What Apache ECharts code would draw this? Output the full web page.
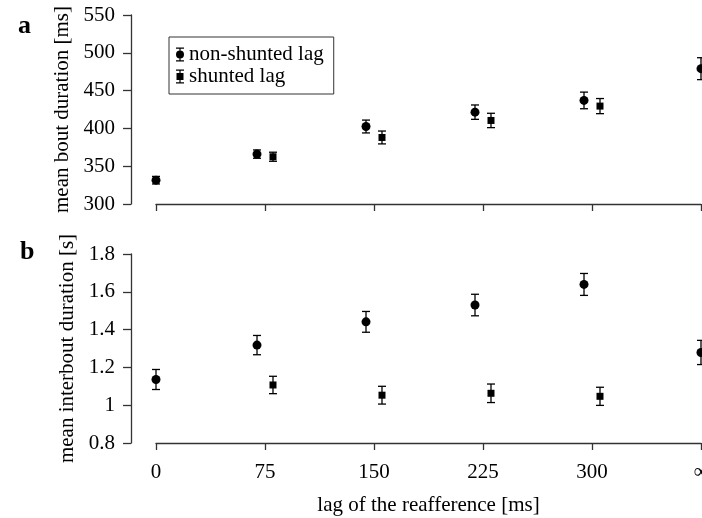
<!DOCTYPE html>
<html>
<head>
<meta charset="utf-8">
<script src="https://cdn.jsdelivr.net/npm/echarts@6/dist/echarts.min.js"></script>
<style>
  html, body { margin: 0; padding: 0; background: #fff; }
  #chart { width: 702px; height: 518px; }
</style>
</head>
<body>
<div id="chart"></div>
<script>
// x positions: the two groups are drawn a little apart around each lag tick
const lagTicks = [0, 75, 150, 225, 300, 375]; // 375 stands for the infinite lag
const xNonShunted = [0, 69.5, 144.5, 219.5, 294.5, 375];
const xShunted = [80.5, 155.5, 230.5, 305.5];

// panel a: mean bout duration [ms]
const boutNonShunted = [331.5, 366, 402.5, 421.5, 437, 479];
const boutNonShuntedErr = [5, 5.5, 8.5, 9.5, 11, 14.5];
const boutShunted = [362.5, 388, 410.5, 429.5];
const boutShuntedErr = [6, 8.5, 9.5, 10];

// panel b: mean interbout duration [s]
const interNonShunted = [1.136, 1.318, 1.441, 1.530, 1.639, 1.279];
const interNonShuntedErr = [0.053, 0.051, 0.055, 0.057, 0.058, 0.064];
const interShunted = [1.107, 1.053, 1.063, 1.047];
const interShuntedErr = [0.046, 0.047, 0.049, 0.048];

const FONT = '"Liberation Serif", "DejaVu Serif", serif';
const LINE = '#333';

const toPoints = (xs, ys) => xs.map((x, i) => [x, ys[i]]);
const toBars = (xs, ys, es) => xs.map((x, i) => [x, ys[i] - es[i], ys[i] + es[i]]);

// error bar: vertical line plus two small caps
const renderErrorBar = (params, api) => {
  const lo = api.coord([api.value(0), api.value(1)]);
  const hi = api.coord([api.value(0), api.value(2)]);
  const half = 4;
  const style = { stroke: '#000', lineWidth: 1.3 };
  return {
    type: 'group',
    children: [
      { type: 'line', shape: { x1: lo[0], y1: lo[1], x2: hi[0], y2: hi[1] }, style },
      { type: 'line', shape: { x1: lo[0] - half, y1: lo[1], x2: lo[0] + half, y2: lo[1] }, style },
      { type: 'line', shape: { x1: hi[0] - half, y1: hi[1], x2: hi[0] + half, y2: hi[1] }, style }
    ]
  };
};

const circleIcon = 'path://M0 0H8V1.2H0Z M0 12.8H8V14H0Z M3.4 0H4.6V14H3.4Z M0 7A4 4 0 1 1 8 7A4 4 0 1 1 0 7Z';
const squareIcon = 'path://M0 0H8V1.2H0Z M0 12.8H8V14H0Z M3.4 0H4.6V14H3.4Z M0.5 3.5H7.5V10.5H0.5Z';

const xAxisBase = (gridIndex, showLabels, name) => ({
  type: 'value',
  gridIndex,
  min: lagTicks[0],
  max: lagTicks[lagTicks.length - 1],
  interval: 75,
  name,
  nameLocation: 'middle',
  nameGap: 52,
  nameTextStyle: { fontFamily: FONT, fontSize: 21, color: '#000' },
  axisLine: { show: true, onZero: false, lineStyle: { color: LINE, width: 1.3 } },
  axisTick: { show: true, length: 7, lineStyle: { color: LINE, width: 1.3 } },
  axisLabel: {
    show: showLabels,
    margin: 19,
    fontFamily: FONT,
    fontSize: 21,
    color: '#000',
    formatter: v => (v === 375 ? '∞' : String(v))
  },
  splitLine: { show: false }
});

const yAxisBase = (gridIndex, min, max, interval, name) => ({
  type: 'value',
  gridIndex,
  min,
  max,
  interval,
  offset: 25,
  name,
  nameLocation: 'middle',
  nameGap: 33,
  nameTextStyle: { fontFamily: FONT, fontSize: 21, color: '#000' },
  axisLine: { show: true, onZero: false, lineStyle: { color: LINE, width: 1.3 } },
  axisTick: { show: true, length: 8, lineStyle: { color: LINE, width: 1.3 } },
  axisLabel: { margin: 16, fontFamily: FONT, fontSize: 21, color: '#000' },
  splitLine: { show: false }
});

const chart = echarts.init(document.getElementById('chart'));

chart.setOption({
  animation: false,
  backgroundColor: '#fff',
  title: [
    { text: 'a', left: 13, top: 8, textStyle: { fontFamily: FONT, fontSize: 26, fontWeight: 'bold', color: '#000' } },
    { text: 'b', left: 15, top: 234, textStyle: { fontFamily: FONT, fontSize: 26, fontWeight: 'bold', color: '#000' } }
  ],
  legend: {
    orient: 'vertical',
    left: 169,
    top: 37,
    padding: [7, 10, 7, 7],
    itemGap: 1,
    itemWidth: 8,
    itemHeight: 14,
    borderColor: LINE,
    borderWidth: 1,
    textStyle: { fontFamily: FONT, fontSize: 21, color: '#000', lineHeight: 20 },
    data: [
      { name: 'non-shunted lag', icon: circleIcon },
      { name: 'shunted lag', icon: squareIcon }
    ]
  },
  grid: [
    { left: 156, right: 1, top: 15, height: 189, outerBoundsMode: 'none' },
    { left: 156, right: 1, top: 254, height: 189, outerBoundsMode: 'none' }
  ],
  xAxis: [
    xAxisBase(0, false, ''),
    xAxisBase(1, true, 'lag of the reafference [ms]')
  ],
  yAxis: [
    yAxisBase(0, 300, 550, 50, 'mean bout duration [ms]'),
    yAxisBase(1, 0.8, 1.8, 0.2, 'mean interbout duration [s]')
  ],
  series: [
    { type: 'custom', xAxisIndex: 0, yAxisIndex: 0, renderItem: renderErrorBar, data: toBars(xNonShunted, boutNonShunted, boutNonShuntedErr), silent: true },
    { type: 'custom', xAxisIndex: 0, yAxisIndex: 0, renderItem: renderErrorBar, data: toBars(xShunted, boutShunted, boutShuntedErr), silent: true },
    { type: 'custom', xAxisIndex: 1, yAxisIndex: 1, renderItem: renderErrorBar, data: toBars(xNonShunted, interNonShunted, interNonShuntedErr), silent: true },
    { type: 'custom', xAxisIndex: 1, yAxisIndex: 1, renderItem: renderErrorBar, data: toBars(xShunted, interShunted, interShuntedErr), silent: true },
    { name: 'non-shunted lag', type: 'scatter', xAxisIndex: 0, yAxisIndex: 0, symbol: 'circle', symbolSize: 9, itemStyle: { color: '#000', opacity: 1 }, data: toPoints(xNonShunted, boutNonShunted) },
    { name: 'shunted lag', type: 'scatter', xAxisIndex: 0, yAxisIndex: 0, symbol: 'rect', symbolSize: 7, itemStyle: { color: '#000', opacity: 1 }, data: toPoints(xShunted, boutShunted) },
    { name: 'non-shunted lag', type: 'scatter', xAxisIndex: 1, yAxisIndex: 1, symbol: 'circle', symbolSize: 9, itemStyle: { color: '#000', opacity: 1 }, data: toPoints(xNonShunted, interNonShunted) },
    { name: 'shunted lag', type: 'scatter', xAxisIndex: 1, yAxisIndex: 1, symbol: 'rect', symbolSize: 7, itemStyle: { color: '#000', opacity: 1 }, data: toPoints(xShunted, interShunted) }
  ]
});
</script>
</body>
</html>
